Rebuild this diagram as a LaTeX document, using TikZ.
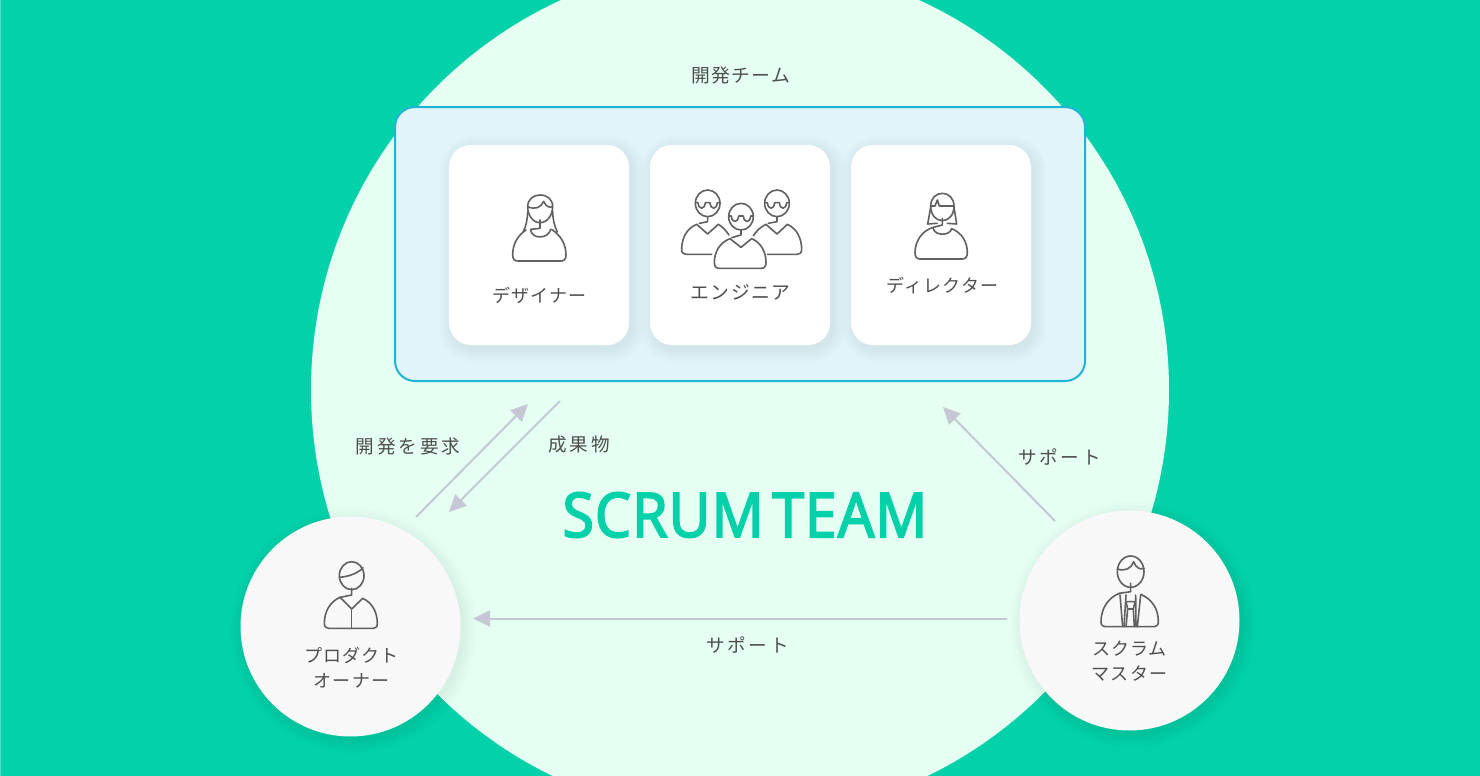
\documentclass[tikz,border=0pt]{standalone}
\usepackage{fontspec}
\usetikzlibrary{arrows.meta}
\newfontfamily\cjk[LetterSpace=6]{Noto Sans CJK JP}
\newfontfamily\cjkbig[LetterSpace=7]{Noto Sans CJK JP}
\newfontfamily\cjkwide[LetterSpace=15]{Noto Sans CJK JP}
\newfontfamily\titlefont[FakeBold=2.5,FakeStretch=0.93,LetterSpace=1.2]{Noto Sans}
\definecolor{bgcol}{HTML}{03D1AA}
\definecolor{discol}{HTML}{E5FFF2}
\definecolor{boxfill}{HTML}{E1F4FA}
\definecolor{boxline}{HTML}{1DB5D5}
\definecolor{roundfill}{HTML}{F8F8F8}
\definecolor{arrowcol}{HTML}{C5C7D5}
\definecolor{inkcol}{HTML}{4E4E4E}
\definecolor{shadowcol}{HTML}{3A6A7A}
\tikzset{
  cardbox/.style={fill=white,rounded corners=11pt,minimum width=90pt,minimum height=100pt,inner sep=0pt},
  rolecircle/.style={circle,fill=roundfill,minimum size=110pt,inner sep=0pt},
  lbl/.style={font=\cjk\fontsize{9pt}{12.5pt}\selectfont,text=inkcol,align=center,inner sep=0pt},
  lblbig/.style={font=\cjkbig\fontsize{9.4pt}{12.5pt}\selectfont,text=inkcol,align=center,inner sep=0pt},
  lblwide/.style={font=\cjkwide\fontsize{9.3pt}{12.5pt}\selectfont,text=inkcol,align=center,inner sep=0pt},
  flow/.style={draw=arrowcol,line width=1pt,-{Triangle[length=8.5pt,width=8pt]}},
  ink/.style={draw=inkcol!90,line width=.8pt,line cap=round,line join=round,fill=none},
  icon/.style={x=0.1666667pt,y=-0.1666667pt},
  titlestyle/.style={font=\titlefont\fontsize{31pt}{36pt}\selectfont,text=bgcol,inner sep=0pt},
}
\newcommand\cardshadow[2]{%
  \foreach \e in {1,3,...,13}{%
    \pgfmathsetmacro\rc{22+\e}
    \fill[shadowcol,opacity=.011,rounded corners=\rc*.5pt]
      ({#1+3-\e},{#2+4-\e}) rectangle ({#1+180+3+\e},{#2+200+4+\e});}}
\newcommand\roundshadow[2]{%
  \foreach \e in {1,3,...,13}{%
    \fill[black,opacity=.006] ({#1+3},{#2+4}) circle [radius=110+\e];}}
% glasses-wearing head: centre in icon space
\newcommand\enghead[2]{%
  \draw[ink] (#1,#2) ellipse [x radius=37,y radius=40];
  \draw[ink] (#1-37,#2-2) -- (#1-29,#2-2) .. controls (#1-27,#2+20) and (#1-9,#2+20) .. (#1-7,#2-2)
     -- (#1+7,#2-2) .. controls (#1+9,#2+20) and (#1+27,#2+20) .. (#1+29,#2-2) -- (#1+37,#2-2);}
\begin{document}
\begin{tikzpicture}[x=0.5pt,y=-0.5pt]
\useasboundingbox (0,0) rectangle (1480,776);
\fill[bgcol] (0,0) rectangle (1480,776);
\fill[bgcol!70!white] (0,0) rectangle (1,776);
\begin{scope}
\clip (0,0) rectangle (1480,776);
\fill[discol] (740,390) circle [radius=429];
\end{scope}

% team box
\node[draw=boxline,fill=boxfill,line width=1pt,rounded corners=10pt,minimum width=345pt,minimum height=137pt,inner sep=0pt] (team) at (740,244) {};
\node[lblbig] (teamlbl) at (740.5,75) {開発チーム};

% cards
\cardshadow{449}{145}
\cardshadow{650}{145}
\cardshadow{851}{145}
\node[cardbox] (designer) at (539,245) {};
\node[cardbox] (engineer) at (740,245) {};
\node[cardbox] (director) at (941,245) {};
\node[lbl] (designerlbl) at (539.5,295) {デザイナー};
\node[lblbig] (engineerlbl) at (740.5,292) {エンジニア};
\node[lbl] (directorlbl) at (942.5,286) {ディレクター};

% role circles
\roundshadow{350.5}{626.5}
\roundshadow{1129.5}{620.5}
\node[rolecircle] (owner) at (350.5,626.5) {};
\node[rolecircle] (master) at (1129.5,620.5) {};
\node[lbl] (ownerlbl) at (351.5,667.5) {プロダクト\\オーナー};
\node[lbl] (masterlbl) at (1129.5,661.5) {スクラム\\マスター};

% arrows
\coordinate (a1s) at (416,517); \coordinate (a1e) at (528,404);
\coordinate (a2s) at (560,401); \coordinate (a2e) at (449,512);
\coordinate (a3s) at (1055,521); \coordinate (a3e) at (943,407);
\coordinate (a4s) at (1007,618.5); \coordinate (a4e) at (473,618.5);
\draw[flow] (a1s) -- (a1e);
\draw[flow] (a2s) -- (a2e);
\draw[flow] (a3s) -- (a3e);
\draw[flow] (a4s) -- (a4e);
\node[lblwide] (reqlbl) at (408,446) {開発を要求};
\node[lblwide] (prodlbl) at (579,444) {成果物};
\node[lblwide] (sup1lbl) at (1059.5,457) {サポート};
\node[lblwide] (sup2lbl) at (747.5,645) {サポート};

% title
\node[titlestyle,anchor=west] (titlea) at (562,515) {SCRUM};
\node[titlestyle,anchor=east] (titleb) at (928,515) {TEAM};

% designer icon
\begin{scope}[shift={(440,140)},icon]
\draw[ink] (263,200) .. controls (263,178) and (280,165) .. (300,165) .. controls (322,165) and (338,178) .. (338,200)
  .. controls (338,225) and (322,248) .. (300,248) .. controls (278,248) and (263,225) .. (263,200);
\draw[ink] (263,200) .. controls (285,210) and (303,203) .. (311,184) .. controls (318,200) and (328,204) .. (338,200);
\draw[ink] (263,215) .. controls (262,240) and (258,260) .. (250,274);
\draw[ink] (338,215) .. controls (339,240) and (343,258) .. (352,276);
\draw[ink] (300,240) -- (300,265) -- (272,268);
\draw[ink] (272,270) .. controls (275,298) and (325,298) .. (332,268);
\draw[ink] (258,270) .. controls (235,285) and (218,310) .. (218,345) .. controls (218,358) and (224,363) .. (234,363)
  -- (362,363) .. controls (372,363) and (378,358) .. (378,345) .. controls (378,310) and (360,285) .. (335,268);
\end{scope}

% engineer icon
\begin{scope}[shift={(660,170)},icon]
\enghead{143}{100}
\enghead{351}{100}
\enghead{243}{140}
\draw[ink] (143,140) -- (143,155) -- (118,160);
\draw[ink] (110,163) -- (143,192) -- (175,163) .. controls (188,170) and (198,182) .. (207,195);
\draw[ink] (110,163) .. controls (80,175) and (65,205) .. (65,238) .. controls (65,248) and (70,253) .. (78,253) -- (155,253);
\draw[ink] (351,140) -- (351,155) -- (325,160);
\draw[ink] (318,163) -- (351,192) -- (382,163) .. controls (410,175) and (425,205) .. (425,238) .. controls (425,248) and (420,253) .. (412,253) -- (322,253);
\draw[ink] (318,163) .. controls (303,170) and (290,182) .. (280,197);
\draw[ink] (243,180) -- (243,195) -- (215,203);
\draw[ink] (210,206) -- (243,232) -- (275,206) .. controls (302,217) and (318,245) .. (318,278) .. controls (318,289) and (313,295) .. (303,295)
  -- (178,295) .. controls (168,295) and (163,289) .. (163,278) .. controls (163,245) and (180,217) .. (210,206);
\end{scope}

% director icon
\begin{scope}[shift={(880,170)},icon]
\draw[ink] (152,108) .. controls (152,85) and (168,70) .. (187,70) .. controls (206,70) and (222,85) .. (222,108)
  .. controls (222,135) and (206,152) .. (187,152) .. controls (168,152) and (152,135) .. (152,108);
\draw[ink] (152,108) -- (165,108) -- (172,90) -- (178,108) -- (222,108);
\draw[ink] (152,112) -- (143,162) -- (172,160);
\draw[ink] (222,112) -- (230,162) -- (202,160);
\draw[ink] (187,145) -- (187,165) -- (160,172);
\draw[ink] (160,176) .. controls (165,198) and (210,198) .. (215,176);
\draw[ink] (160,172) .. controls (125,182) and (105,215) .. (105,248) .. controls (105,260) and (110,267) .. (120,267)
  -- (247,267) .. controls (257,267) and (262,260) .. (262,248) .. controls (262,215) and (245,188) .. (215,176);
\end{scope}

% owner icon
\begin{scope}[shift={(290,545)},icon]
\draw[ink] (185,92) ellipse [x radius=37,y radius=42];
\draw[ink] (148,97) .. controls (175,95) and (205,85) .. (219,68);
\draw[ink] (185,130) -- (185,150) -- (150,157);
\draw[ink] (150,157) -- (185,192) -- (218,160);
\draw[ink] (185,192) -- (185,250);
\draw[ink] (150,157) .. controls (120,170) and (103,200) .. (103,235) .. controls (103,245) and (108,250) .. (116,250)
  -- (250,250) .. controls (258,250) and (262,245) .. (262,235) .. controls (262,200) and (245,172) .. (218,160);
\end{scope}

% master icon
\begin{scope}[shift={(1075,545)},icon]
\draw[ink] (167,80) ellipse [x radius=40,y radius=47];
\draw[ink] (127,72) .. controls (150,80) and (170,70) .. (176,50) .. controls (182,68) and (195,75) .. (207,70);
\draw[ink] (167,115) -- (167,140) -- (133,145);
\draw[ink] (133,145) .. controls (100,158) and (78,190) .. (78,230) .. controls (78,240) and (83,245) .. (90,245)
  -- (238,245) .. controls (245,245) and (250,240) .. (250,230) .. controls (250,190) and (230,162) .. (197,148);
\draw[ink] (135,150) -- (143,245);
\draw[ink] (197,150) -- (187,245);
\draw[ink] (153,150) -- (147,245);
\draw[ink] (182,150) -- (183,245);
\draw[ink] (153,170) -- (180,170) -- (175,192) -- (158,192) -- cycle;
\draw[ink] (158,192) -- (153,245);
\draw[ink] (175,192) -- (178,245);
\end{scope}
\end{tikzpicture}
\end{document}
